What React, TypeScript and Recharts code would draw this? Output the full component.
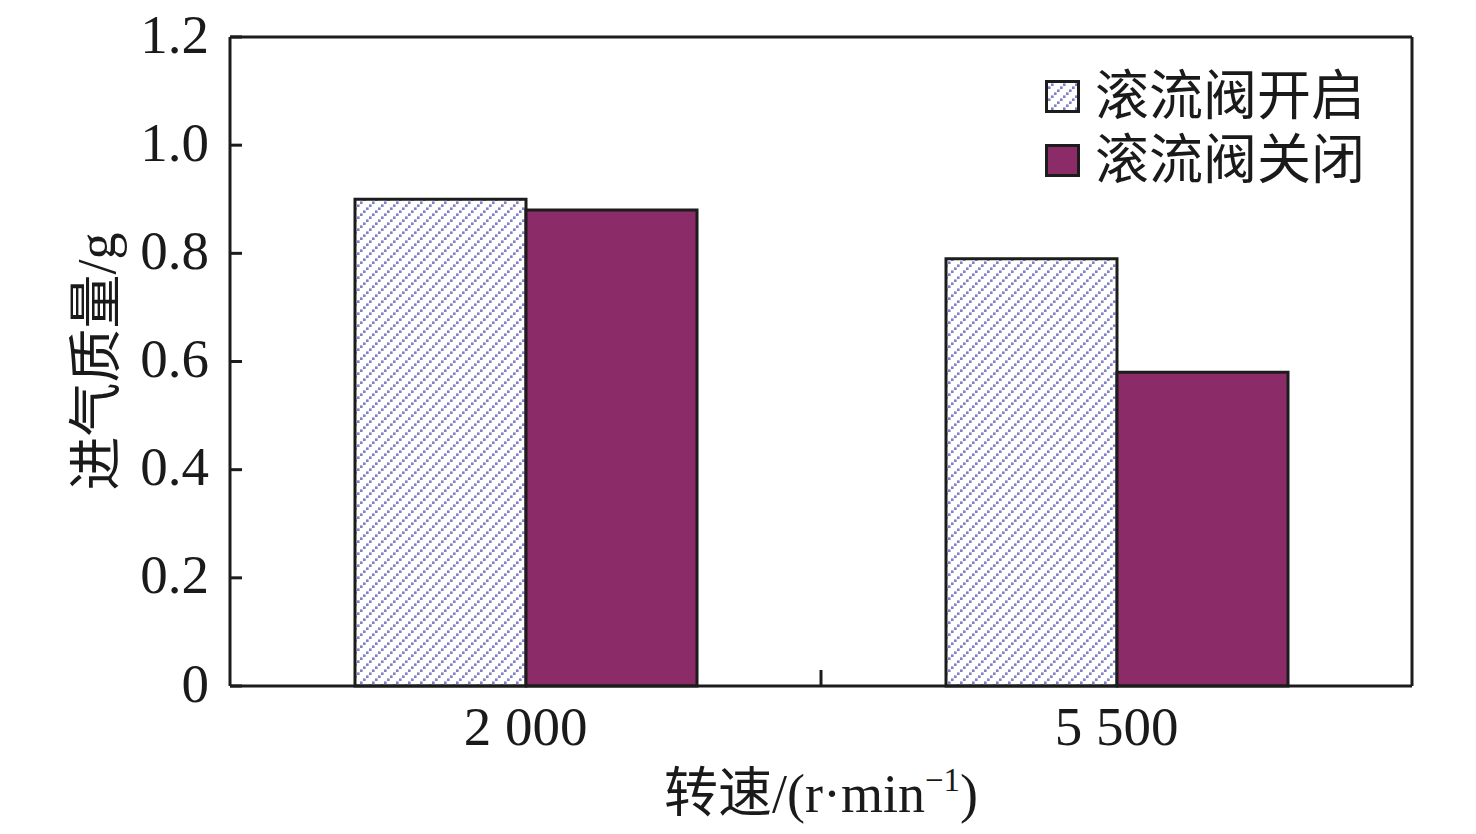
import { BarChart, Bar, XAxis, YAxis, Legend } from "recharts";

// 转速类别与进气质量 (g)
const speeds = ["2 000", "5 500"];
const valveOpen = [0.9, 0.79];
const valveClosed = [0.88, 0.58];
const yTicks = [0, 0.2, 0.4, 0.6, 0.8, 1.0, 1.2];

const seriesNames = ["滚流阀开启", "滚流阀关闭"];

const data = speeds.map((s, i) => ({
  speed: s,
  open: valveOpen[i],
  closed: valveClosed[i],
}));

const FONT = '"Liberation Serif", "Noto Sans CJK SC", serif';
const CLOSED_COLOR = "#8b2b67";
const HATCH_COLOR = "#8080c4";
const EDGE = "#1c1c1c";
const FS = 55;
const X_TICK_MARGIN = 20;

function HatchDef({ id }: { id: string }) {
  return (
    <pattern id={id} patternUnits="userSpaceOnUse" width={12} height={12}>
      <rect width={12} height={12} fill="#fff" />
      <rect x={0} y={9.4} width={2.6} height={2.6} fill={HATCH_COLOR} />
      <rect x={3} y={6.4} width={2.6} height={2.6} fill={HATCH_COLOR} />
      <rect x={6} y={3.4} width={2.6} height={2.6} fill={HATCH_COLOR} />
      <rect x={9} y={0.4} width={2.6} height={2.6} fill={HATCH_COLOR} />
    </pattern>
  );
}

// 类别标签 + 类别之间朝内的分隔刻度
function SpeedTick(props: any) {
  const { x, y, payload, index } = props;
  const axisY = y - X_TICK_MARGIN;
  const half = payload?.offset ?? 0;
  return (
    <g>
      <text
        x={x}
        y={y}
        dy="0.71em"
        textAnchor="middle"
        fontFamily={FONT}
        fontSize={FS}
        fill="#1a1a1a"
      >
        {payload.value}
      </text>
      {index < speeds.length - 1 && half > 0 && (
        <line
          x1={x + half}
          x2={x + half}
          y1={axisY}
          y2={axisY - 16}
          stroke={EDGE}
          strokeWidth={3}
        />
      )}
    </g>
  );
}

function LegendBox() {
  const fills = ["url(#hatchLegend)", CLOSED_COLOR];
  return (
    <div style={{ fontFamily: FONT, fontSize: 54, color: "#1a1a1a" }}>
      {seriesNames.map((name, i) => (
        <div
          key={name}
          style={{ display: "flex", alignItems: "center", height: 64 }}
        >
          <svg width={36} height={34} style={{ marginRight: 14 }}>
            <defs>
              <HatchDef id="hatchLegend" />
            </defs>
            <rect
              x={1.5}
              y={1.5}
              width={32}
              height={30}
              fill={fills[i]}
              stroke={EDGE}
              strokeWidth={3}
            />
          </svg>
          <span style={{ lineHeight: "64px" }}>{name}</span>
        </div>
      ))}
    </div>
  );
}

export default function App() {
  return (
    <div style={{ position: "absolute", left: 0, top: 0, background: "#fff" }}>
      <BarChart
        width={1476}
        height={834}
        data={data}
        margin={{ top: 36, right: 63, left: 0, bottom: 0 }}
        barCategoryGap={125}
        barGap={0}
      >
        <defs>
          <HatchDef id="hatchBar" />
        </defs>
        <XAxis
          dataKey="speed"
          height={148}
          tickLine={false}
          tickSize={0}
          tickMargin={X_TICK_MARGIN}
          axisLine={{ stroke: EDGE, strokeWidth: 3 }}
          tick={<SpeedTick />}
          interval={0}
          label={{
            content: ({ viewBox }: any) => (
              <text
                x={viewBox.x + viewBox.width / 2}
                y={viewBox.y + 126}
                textAnchor="middle"
                fontFamily={FONT}
                fontSize={54}
                fill="#1a1a1a"
              >
                转速/(r·min
                <tspan fontSize={33} dy={-21}>
                  −1
                </tspan>
                <tspan dy={21}>)</tspan>
              </text>
            ),
          }}
        />
        <XAxis
          xAxisId="top"
          orientation="top"
          dataKey="speed"
          height={1}
          tick={false}
          tickLine={false}
          axisLine={{ stroke: EDGE, strokeWidth: 3 }}
        />
        <YAxis
          width={230}
          domain={[0, 1.2]}
          ticks={yTicks}
          tickFormatter={(v: number) => (v === 0 ? "0" : v.toFixed(1))}
          tickSize={-12}
          tickMargin={33}
          tickLine={{ stroke: EDGE, strokeWidth: 3 }}
          axisLine={{ stroke: EDGE, strokeWidth: 3 }}
          tick={{ fill: "#1a1a1a", fontSize: FS, fontFamily: FONT, dy: -4 }}
          interval={0}
          label={{
            content: ({ viewBox }: any) => {
              const cx = viewBox.x + 97;
              const cy = viewBox.y + viewBox.height / 2;
              return (
                <text
                  x={cx}
                  y={cy}
                  transform={`rotate(-90 ${cx} ${cy})`}
                  textAnchor="middle"
                  dominantBaseline="central"
                  fontFamily={FONT}
                  fontSize={54}
                  fill="#1a1a1a"
                >
                  进气质量/g
                </text>
              );
            },
          }}
        />
        <YAxis
          yAxisId="right"
          orientation="right"
          width={1}
          domain={[0, 1.2]}
          tick={false}
          tickLine={false}
          axisLine={{ stroke: EDGE, strokeWidth: 3 }}
        />
        <Legend
          layout="vertical"
          align="center"
          verticalAlign="middle"
          content={() => <LegendBox />}
          wrapperStyle={{ position: "absolute", top: 65, left: 1045, width: "auto" }}
        />
        <Bar
          dataKey="open"
          name={seriesNames[0]}
          fill="url(#hatchBar)"
          stroke={EDGE}
          strokeWidth={3}
          isAnimationActive={false}
        />
        <Bar
          dataKey="closed"
          name={seriesNames[1]}
          fill={CLOSED_COLOR}
          stroke={EDGE}
          strokeWidth={3}
          isAnimationActive={false}
        />
      </BarChart>
    </div>
  );
}
